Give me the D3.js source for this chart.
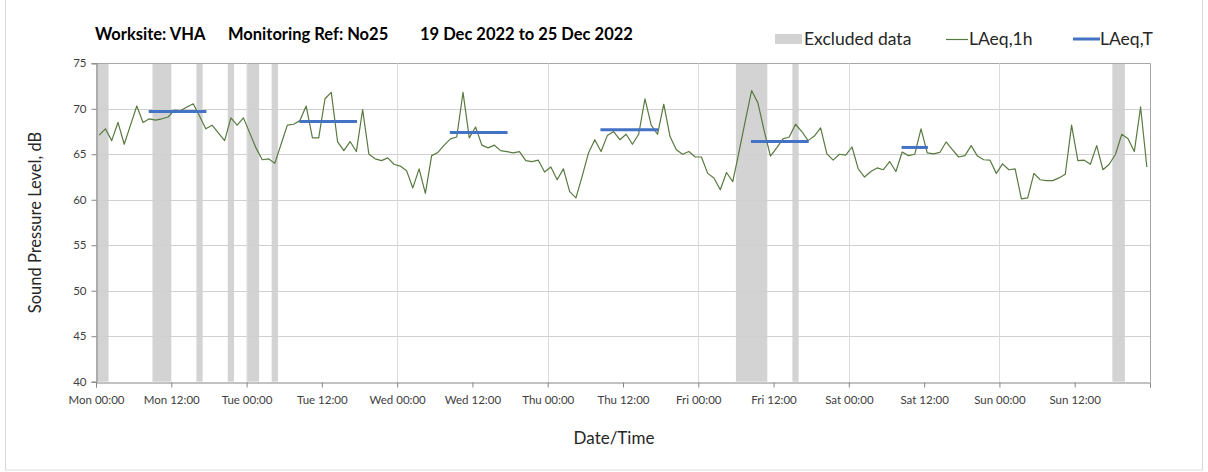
<!DOCTYPE html>
<html>
<head>
<meta charset="utf-8">
<script src="https://cdn.jsdelivr.net/npm/d3@7"></script>
<style>
  body { margin: 0; background: #fff; }
  text { font-family: Lato, "Open Sans", sans-serif; }
</style>
</head>
<body>
<div id="chart"></div>
<script>
// hourly LAeq,1h values, Mon 00:00 .. Sun 23:00 (point drawn at mid-hour)
const laeq1h = [
  67.1, 67.8, 66.5, 68.5, 66.1, 68.2, 70.3, 68.5, 68.9, 68.75, 68.9, 69.1,
  69.85, 69.8, 70.2, 70.55, 69.2, 67.8, 68.2, 67.35, 66.5, 69.0, 68.2, 69.0,
  67.35, 65.7, 64.4, 64.5, 64.0, 66.1, 68.2, 68.3, 68.7, 70.3, 66.8, 66.8,
  71.1, 71.8, 66.4, 65.4, 66.4, 65.3, 69.9, 65.0, 64.5, 64.3, 64.6, 63.9,
  63.7, 63.2, 61.3, 63.4, 60.7, 64.85, 65.2, 66.0, 66.7, 66.9, 71.8, 66.8,
  68.0, 66.0, 65.7, 66.0, 65.4, 65.3, 65.15, 65.3, 64.3, 64.2, 64.35, 63.05,
  63.6, 62.2, 63.4, 60.9, 60.2, 62.6, 65.15, 66.6, 65.3, 67.05, 67.5, 66.6,
  67.2, 66.1, 67.2, 71.1, 68.2, 67.2, 70.5, 66.95, 65.5, 65.0, 65.3, 64.7,
  64.7, 62.9, 62.4, 61.1, 63.0, 62.0, 65.3, 68.7, 72.0, 70.65, 67.6, 64.8,
  65.7, 66.7, 66.9, 68.3, 67.5, 66.5, 67.0, 67.9, 65.05, 64.35, 65.0, 64.9,
  65.8, 63.4, 62.5, 63.1, 63.5, 63.3, 64.2, 63.1, 65.25, 64.85, 65.0, 67.8,
  65.15, 65.05, 65.2, 66.35, 65.5, 64.7, 64.85, 65.95, 64.8, 64.4, 64.35, 62.9,
  63.95, 63.3, 63.4, 60.1, 60.2, 62.9, 62.2, 62.1, 62.1, 62.4, 62.8, 68.2,
  64.3, 64.35, 63.9, 65.95, 63.3, 63.9, 65.0, 67.2, 66.7, 65.3, 70.2, 63.6
];

// LAeq,T daytime periods (hours from Mon 00:00)
const periodStart = [8.4, 32.4, 56.4, 80.4, 104.4, 128.4];
const periodEnd = [17.6, 41.6, 65.6, 89.6, 113.6, 132.6];
const laeqT = [69.7, 68.6, 67.4, 67.7, 66.4, 65.75];

// excluded hours
const excludedStart = [0, 9, 16, 21, 24, 28, 102, 111, 162];
const excludedEnd = [2, 12, 17, 22, 26, 29, 107, 112, 164];

const tickLabels = ["Mon 00:00", "Mon 12:00", "Tue 00:00", "Tue 12:00", "Wed 00:00", "Wed 12:00",
  "Thu 00:00", "Thu 12:00", "Fri 00:00", "Fri 12:00", "Sat 00:00", "Sat 12:00", "Sun 00:00", "Sun 12:00"];
const yTicks = [40, 45, 50, 55, 60, 65, 70, 75];
const titleParts = ["Worksite: VHA", "Monitoring Ref: No25", "19 Dec 2022 to 25 Dec 2022"];

const width = 1208, height = 472;
const plotLeft = 96, plotRight = 1150, plotTop = 63.3, plotBottom = 381.7;

const svg = d3.select("#chart").append("svg")
  .attr("width", width)
  .attr("height", height);

// outer chart border
svg.append("rect")
  .attr("x", 5.5).attr("y", -2)
  .attr("width", 1197).attr("height", 472)
  .attr("fill", "none").attr("stroke", "#d9d9d9");

const x = d3.scaleLinear().domain([0, 168]).range([plotLeft, plotRight]);
const y = d3.scaleLinear().domain([40, 75]).range([plotBottom, plotTop]);

// excluded bands
svg.append("g")
  .selectAll("rect")
  .data(excludedStart)
  .join("rect")
  .attr("x", d => x(d))
  .attr("width", (d, i) => x(excludedEnd[i]) - x(d))
  .attr("y", plotTop)
  .attr("height", plotBottom - plotTop)
  .attr("fill", "#d3d3d3");

// horizontal grid
svg.append("g")
  .selectAll("line")
  .data(yTicks.slice(1))
  .join("line")
  .attr("x1", plotLeft).attr("x2", plotRight)
  .attr("y1", d => Math.round(y(d)) + 0.5)
  .attr("y2", d => Math.round(y(d)) + 0.5)
  .attr("stroke", d => d === 75 ? "#a6a6a6" : "#d0d0d0")
  .attr("stroke-width", 1);

// vertical grid at midnight
svg.append("g")
  .selectAll("line")
  .data(d3.range(24, 168, 24))
  .join("line")
  .attr("x1", d => Math.round(x(d)) + 0.5)
  .attr("x2", d => Math.round(x(d)) + 0.5)
  .attr("y1", plotTop).attr("y2", plotBottom)
  .attr("stroke", "#dadada");

// right border
svg.append("line")
  .attr("x1", plotRight + 0.5).attr("x2", plotRight + 0.5)
  .attr("y1", plotTop).attr("y2", plotBottom)
  .attr("stroke", "#a6a6a6");

// LAeq,1h line
const line = d3.line()
  .x((d, i) => x(i + 0.5))
  .y(d => y(d));

svg.append("path")
  .datum(laeq1h)
  .attr("d", line)
  .attr("fill", "none")
  .attr("stroke", "#587a40")
  .attr("stroke-width", 1.2)
  .attr("stroke-linejoin", "round");

// LAeq,T segments
svg.append("g")
  .selectAll("line")
  .data(laeqT)
  .join("line")
  .attr("x1", (d, i) => x(periodStart[i]))
  .attr("x2", (d, i) => x(periodEnd[i]))
  .attr("y1", d => y(d))
  .attr("y2", d => y(d))
  .attr("stroke", "#4472c4")
  .attr("stroke-width", 3);

// axes
const xAxis = d3.axisBottom(x)
  .tickValues(d3.range(0, 169, 12))
  .tickFormat((d, i) => tickLabels[i] || "")
  .tickSize(5)
  .tickPadding(8);

const gx = svg.append("g")
  .attr("transform", `translate(0,${Math.round(plotBottom) + 0.5})`)
  .call(xAxis);
gx.select(".domain").attr("stroke", "#868686");
gx.selectAll(".tick line").attr("stroke", "#868686");
gx.selectAll("text")
  .attr("fill", "#404040")
  .style("font-size", "11.5px")
  .style("font-family", "Lato, sans-serif");

const yAxis = d3.axisLeft(y)
  .tickValues(yTicks)
  .tickSize(5)
  .tickPadding(5);

const gy = svg.append("g")
  .attr("transform", `translate(${plotLeft + 0.5},0)`)
  .call(yAxis);
gy.select(".domain").attr("stroke", "#868686");
gy.selectAll(".tick line").attr("stroke", "#868686");
gy.selectAll("text")
  .attr("fill", "#404040")
  .style("font-size", "11.5px")
  .style("font-family", "Lato, sans-serif");

// axis titles
svg.append("text")
  .attr("transform", `translate(41,${(plotTop + plotBottom) / 2}) rotate(-90)`)
  .attr("text-anchor", "middle")
  .style("font-size", "16.5px")
  .attr("fill", "#262626")
  .text("Sound Pressure Level, dB");

svg.append("text")
  .attr("x", 614)
  .attr("y", 444)
  .attr("text-anchor", "middle")
  .style("font-size", "17px")
  .attr("fill", "#262626")
  .text("Date/Time");

// title, three parts
const titleX = [95, 228, 420];
svg.append("g")
  .selectAll("text")
  .data(titleParts)
  .join("text")
  .attr("x", (d, i) => titleX[i])
  .attr("y", 40)
  .style("font-size", "16.5px")
  .style("font-weight", "bold")
  .attr("fill", "#000")
  .text(d => d);

// legend
const lg = svg.append("g").attr("transform", "translate(0,39)");
lg.append("rect")
  .attr("x", 775).attr("y", -5)
  .attr("width", 27).attr("height", 10)
  .attr("fill", "#d3d3d3");
lg.append("text")
  .attr("x", 804).attr("y", 6)
  .style("font-size", "17.5px").attr("fill", "#262626")
  .text("Excluded data");
lg.append("line")
  .attr("x1", 946).attr("x2", 968)
  .attr("y1", 0.5).attr("y2", 0.5)
  .attr("stroke", "#587a40").attr("stroke-width", 1.2);
lg.append("text")
  .attr("x", 969).attr("y", 6)
  .style("font-size", "17.5px").attr("fill", "#262626")
  .text("LAeq,1h");
lg.append("line")
  .attr("x1", 1073).attr("x2", 1100)
  .attr("y1", 0).attr("y2", 0)
  .attr("stroke", "#4472c4").attr("stroke-width", 3);
lg.append("text")
  .attr("x", 1100).attr("y", 6)
  .style("font-size", "17.5px").attr("fill", "#262626")
  .text("LAeq,T");
</script>
</body>
</html>
